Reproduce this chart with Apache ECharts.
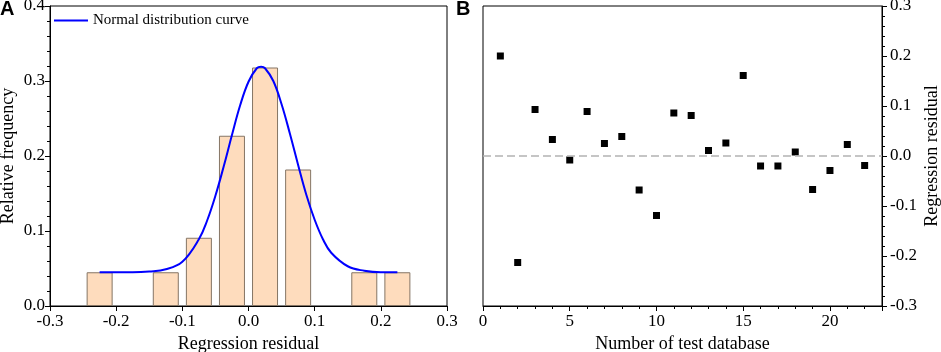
<!DOCTYPE html>
<html>
<head>
<meta charset="utf-8">
<script src="https://cdn.jsdelivr.net/npm/echarts@6/dist/echarts.min.js"></script>
<style>
  html, body { margin: 0; padding: 0; background: #fff; }
  #chart { width: 941px; height: 352px; }
</style>
</head>
<body>
<div id="chart"></div>
<script>
// panel A: histogram of residuals
var binCenters = [-0.225, -0.125, -0.075, -0.025, 0.025, 0.075, 0.175, 0.225];
var binFreq = [0.045, 0.045, 0.091, 0.227, 0.318, 0.182, 0.045, 0.045];

// normal distribution curve
var curveX = [-0.225, -0.2, -0.175, -0.15, -0.125, -0.1, -0.075, -0.0625, -0.05, -0.0375, -0.025, -0.0125,
  0, 0.0125, 0.019, 0.025, 0.0375, 0.05, 0.0625, 0.075, 0.0875, 0.1, 0.1125, 0.125, 0.15, 0.175, 0.2, 0.225];
var curveY = [0.045, 0.045, 0.045, 0.046, 0.049, 0.059, 0.089, 0.114, 0.147, 0.186, 0.228, 0.268,
  0.299, 0.317, 0.319, 0.317, 0.300, 0.269, 0.230, 0.188, 0.148, 0.115, 0.089, 0.071, 0.053, 0.047, 0.045, 0.045];

// panel B: residual per test database
var testIds = [1, 2, 3, 4, 5, 6, 7, 8, 9, 10, 11, 12, 13, 14, 15, 16, 17, 18, 19, 20, 21, 22];
var residuals = [0.200, -0.213, 0.093, 0.033, -0.008, 0.089, 0.025, 0.039, -0.068, -0.119, 0.086,
  0.081, 0.011, 0.026, 0.161, -0.020, -0.020, 0.008, -0.067, -0.029, 0.023, -0.019];

var serif = 'Liberation Serif';

var histData = binCenters.map(function (x, i) { return [x, binFreq[i]]; });
var curveData = curveX.map(function (x, i) { return [x, curveY[i]]; });
var scatterData = testIds.map(function (x, i) { return [x, residuals[i]]; });

function fixed1(v) { return Number(v).toFixed(1); }

var nameStyle = { color: '#000', fontFamily: serif, fontSize: 18 };
var axisLine = { show: true, onZero: false, lineStyle: { color: '#000' } };
var majorTick = { show: true, length: 5, lineStyle: { color: '#000' } };
var minorTick = { show: true, splitNumber: 5, length: 3, lineStyle: { color: '#000' } };

var chart = echarts.init(document.getElementById('chart'));
chart.setOption({
  animation: false,
  backgroundColor: '#fff',
  textStyle: { fontFamily: serif, color: '#000' },
  title: [
    { text: 'A', left: 0, top: -1, padding: 0, textStyle: { fontFamily: 'Liberation Sans', fontWeight: 'bold', fontSize: 20, color: '#000' } },
    { text: 'B', left: 456, top: -1, padding: 0, textStyle: { fontFamily: 'Liberation Sans', fontWeight: 'bold', fontSize: 20, color: '#000' } }
  ],
  legend: {
    data: [{ name: 'Normal distribution curve', icon: 'rect' }],
    left: 54, top: 13, padding: 0,
    itemWidth: 34, itemHeight: 2, itemGap: 4,
    textStyle: { fontFamily: serif, fontSize: 15, color: '#000' }
  },
  grid: [
    { left: 50, right: 494, top: 6, bottom: 46, show: true, borderColor: '#000', borderWidth: 1, containLabel: false, outerBoundsMode: 'none' },
    { left: 483, right: 59, top: 6, bottom: 46, show: true, borderColor: '#000', borderWidth: 1, containLabel: false, outerBoundsMode: 'none' }
  ],
  xAxis: [
    {
      type: 'value', gridIndex: 0, min: -0.3, max: 0.3, interval: 0.1,
      name: 'Regression residual', nameLocation: 'middle', nameGap: 27,
      nameTextStyle: nameStyle,
      axisLine: axisLine,
      axisTick: majorTick,
      splitLine: { show: false },
      axisLabel: { show: true, color: '#000', fontFamily: serif, fontSize: 17, margin: 7, formatter: fixed1 }
    },
    {
      type: 'value', gridIndex: 1, min: 0, max: 23, interval: 5,
      name: 'Number of test database', nameLocation: 'middle', nameGap: 27,
      nameTextStyle: nameStyle,
      axisLine: axisLine,
      axisTick: majorTick,
      minorTick: minorTick,
      splitLine: { show: false },
      axisLabel: { show: true, color: '#000', fontFamily: serif, fontSize: 17, margin: 7, showMaxLabel: false }
    }
  ],
  yAxis: [
    {
      type: 'value', gridIndex: 0, min: 0, max: 0.4, interval: 0.1,
      name: 'Relative frequency', nameLocation: 'middle', nameGap: 33,
      nameTextStyle: nameStyle,
      axisLine: axisLine,
      axisTick: majorTick,
      minorTick: minorTick,
      splitLine: { show: false },
      axisLabel: { show: true, color: '#000', fontFamily: serif, fontSize: 17, margin: 5, formatter: fixed1 }
    },
    {
      type: 'value', gridIndex: 1, position: 'right', min: -0.3, max: 0.3, interval: 0.1,
      name: 'Regression residual', nameLocation: 'middle', nameGap: 41,
      nameTextStyle: nameStyle,
      axisLine: axisLine,
      axisTick: majorTick,
      minorTick: minorTick,
      splitLine: { show: false },
      axisLabel: { show: true, color: '#000', fontFamily: serif, fontSize: 17, margin: 8, formatter: fixed1 }
    }
  ],
  series: [
    {
      name: 'Frequency',
      type: 'bar',
      xAxisIndex: 0, yAxisIndex: 0,
      barWidth: 26,
      data: histData,
      itemStyle: { color: '#fedcbd', borderColor: '#857565', borderWidth: 1 }
    },
    {
      name: 'Normal distribution curve',
      type: 'line',
      xAxisIndex: 0, yAxisIndex: 0,
      smooth: 0.4,
      symbol: 'none',
      data: curveData,
      lineStyle: { color: '#0000ff', width: 2 },
      itemStyle: { color: '#0000ff' }
    },
    {
      name: 'Residual',
      type: 'scatter',
      xAxisIndex: 1, yAxisIndex: 1,
      symbol: 'rect',
      symbolSize: 7,
      data: scatterData,
      itemStyle: { color: '#000', opacity: 1 },
      markLine: {
        silent: true,
        symbol: 'none',
        label: { show: false },
        lineStyle: { color: '#b3b3b3', type: [8, 4], width: 1.5 },
        data: [{ yAxis: 0 }]
      }
    }
  ]
});
</script>
</body>
</html>
